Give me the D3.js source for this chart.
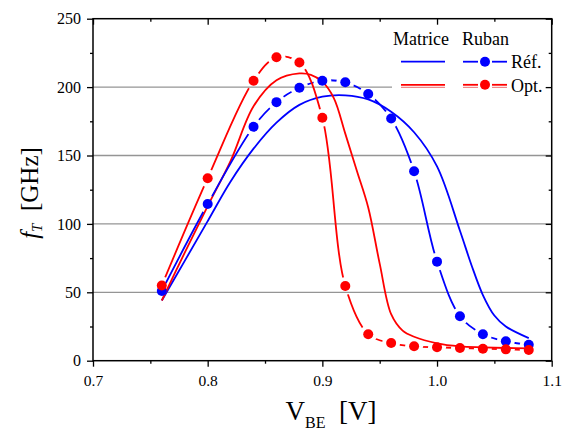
<!DOCTYPE html>
<html><head><meta charset="utf-8">
<script src="https://cdn.jsdelivr.net/npm/d3@7"></script>
<style>
html,body{margin:0;padding:0;background:#fff;}
svg text{font-family:"Liberation Serif","Times New Roman",serif !important;}
</style></head>
<body>
<script>
// ---- data ----
const vbeDots   = [0.76,0.80,0.84,0.86,0.88,0.90,0.92,0.94,0.96,0.98,1.00,1.02,1.04,1.06,1.08];
const rubanRef  = [51,114.5,171,189,199.5,204.7,203.5,195,177,138.5,72.4,32.5,19.3,14.2,11.7];
const rubanOpt  = [55,133.4,204.7,221.8,218,177.6,54.6,19.3,12.9,10.5,9.8,9.3,8.8,8.3,7.8];

const vbeMatRef = [0.76,0.78,0.80,0.82,0.84,0.86,0.88,0.90,0.92,0.94,0.96,0.98,1.00,1.02,1.03,1.04,1.05,1.06,1.08];
const matriceRef= [44,73,102,131,155,174,187,193,194,191,182,167,142,95,70,48,33,25,16.5];

const vbeMatOpt = [0.76,0.78,0.80,0.82,0.84,0.86,0.88,0.89,0.90,0.91,0.92,0.93,0.94,0.95,0.96,0.97,0.98,1.00,1.02,1.04,1.06,1.08];
const matriceOpt= [44,79,113,146,186,205,210,209,204,192,166,139,112,71,34,22,17.5,12.7,10.5,9.8,9.3,9];

const xTicks = [0.7,0.8,0.9,1.0,1.1];
const xMinor = [0.75,0.85,0.95,1.05];
const yTicks = [0,50,100,150,200,250];
const yMinor = [25,75,125,175,225];
const gridVals = [50,100,150,200];

const colRef = "#0000ff", colOpt = "#ff0000";

// ---- layout ----
const W = 564, H = 429;
const L = 93, R = 551.7, T = 18.7, B = 360.7;

const svg = d3.select("body").append("svg").attr("width",W).attr("height",H).style("display","block");
const x = d3.scaleLinear().domain([0.7,1.1]).range([L,R]);
const y = d3.scaleLinear().domain([0,250]).range([B,T]);

// gridlines
svg.append("g").selectAll("line").data(gridVals).join("line")
  .attr("x1",L).attr("x2",R).attr("y1",d=>y(d)).attr("y2",d=>y(d))
  .attr("stroke","#959595").attr("stroke-width",1.3);

// legend background
svg.append("rect").attr("x",392).attr("y",26).attr("width",R-392).attr("height",70).attr("fill","#fff");

// masks for line gaps around symbols
const defs = svg.append("defs");
function makeMask(id, xs, ys){
  const m = defs.append("mask").attr("id",id).attr("maskUnits","userSpaceOnUse")
    .attr("x",0).attr("y",0).attr("width",W).attr("height",H);
  m.append("rect").attr("x",0).attr("y",0).attr("width",W).attr("height",H).attr("fill","#fff");
  m.selectAll("circle").data(xs).join("circle")
    .attr("cx",d=>x(d)).attr("cy",(d,i)=>y(ys[i])).attr("r",9).attr("fill","#000");
}
makeMask("mRef", vbeDots, rubanRef);
makeMask("mOpt", vbeDots, rubanOpt);

const line = d3.line().x(d=>x(d[0])).y(d=>y(d[1])).curve(d3.curveCatmullRom.alpha(0.5));
const zip = (a,b)=>a.map((v,i)=>[v,b[i]]);

const plot = svg.append("g");
plot.append("path").attr("d",line(zip(vbeMatRef,matriceRef))).attr("fill","none").attr("stroke",colRef).attr("stroke-width",1.8);
plot.append("path").attr("d",line(zip(vbeMatOpt,matriceOpt))).attr("fill","none").attr("stroke",colOpt).attr("stroke-width",1.8);
plot.append("path").attr("d",line(zip(vbeDots,rubanRef))).attr("fill","none").attr("stroke",colRef).attr("stroke-width",1.8).attr("mask","url(#mRef)");
plot.append("path").attr("d",line(zip(vbeDots,rubanOpt))).attr("fill","none").attr("stroke",colOpt).attr("stroke-width",1.8).attr("mask","url(#mOpt)");

plot.append("g").selectAll("circle").data(zip(vbeDots,rubanRef)).join("circle")
  .attr("cx",d=>x(d[0])).attr("cy",d=>y(d[1])).attr("r",5).attr("fill",colRef);
plot.append("g").selectAll("circle").data(zip(vbeDots,rubanOpt)).join("circle")
  .attr("cx",d=>x(d[0])).attr("cy",d=>y(d[1])).attr("r",5).attr("fill",colOpt);

// axes
function styleAxis(fs){
  return g=>{
    g.select(".domain").remove();
    g.attr("font-family",null);
    g.selectAll("line").attr("stroke","#000").attr("stroke-width",1.3);
    g.selectAll("text").attr("font-size",fs).attr("fill","#000");
  };
}
svg.append("g").attr("transform",`translate(${L},0)`)
  .call(d3.axisLeft(y).tickValues(yTicks).tickSize(6).tickPadding(6).tickFormat(d3.format("d"))).call(styleAxis(16));
svg.append("g").attr("transform",`translate(${L},0)`)
  .call(d3.axisLeft(y).tickValues(yMinor).tickSize(3).tickFormat("")).call(styleAxis(16));
svg.append("g").attr("transform",`translate(0,${B})`)
  .call(d3.axisBottom(x).tickValues(xTicks).tickSize(6).tickPadding(8).tickFormat(d3.format(".1f"))).call(styleAxis(15.5));
svg.append("g").attr("transform",`translate(0,${B})`)
  .call(d3.axisBottom(x).tickValues(xMinor).tickSize(3).tickFormat("")).call(styleAxis(15));
// top & right inward ticks
svg.append("g").attr("transform",`translate(0,${T})`)
  .call(d3.axisBottom(x).tickValues(xTicks).tickSize(6).tickFormat("")).call(styleAxis(15));
svg.append("g").attr("transform",`translate(0,${T})`)
  .call(d3.axisBottom(x).tickValues(xMinor).tickSize(3).tickFormat("")).call(styleAxis(15));
svg.append("g").attr("transform",`translate(${R},0)`)
  .call(d3.axisLeft(y).tickValues(yTicks).tickSize(6).tickFormat("")).call(styleAxis(15));
svg.append("g").attr("transform",`translate(${R},0)`)
  .call(d3.axisLeft(y).tickValues(yMinor).tickSize(3).tickFormat("")).call(styleAxis(15));

// frame
svg.append("rect").attr("x",L).attr("y",T).attr("width",R-L).attr("height",B-T)
  .attr("fill","none").attr("stroke","#000").attr("stroke-width",1.5);

// axis titles
const yl = svg.append("text").attr("transform",`translate(38,193) rotate(-90)`)
  .attr("text-anchor","middle").attr("font-size",25).attr("fill","#000");
yl.append("tspan").attr("font-style","italic").text("f");
yl.append("tspan").attr("font-style","italic").attr("font-size",15).attr("dy",4).text("T");
yl.append("tspan").attr("dy",-4).text("\u00a0 [GHz]");

const xl = svg.append("text").attr("x",331).attr("y",420)
  .attr("text-anchor","middle").attr("font-size",27).attr("fill","#000");
xl.append("tspan").text("V");
xl.append("tspan").attr("font-size",16).attr("dy",8).text("BE");
xl.append("tspan").attr("dy",-8).text("\u00a0 [V]");

// legend
const lg = svg.append("g").attr("font-size",18).attr("fill","#000");
lg.append("text").attr("x",393).attr("y",45).text("Matrice");
lg.append("text").attr("x",462).attr("y",45).text("Ruban");
lg.append("text").attr("x",511).attr("y",68).text("Réf.");
lg.append("text").attr("x",511).attr("y",92).text("Opt.");
const legRows = [{y:61.7,c:colRef,dbl:false},{y:84.8,c:colOpt,dbl:true}];
legRows.forEach(r=>{
  const segs = [[401,445],[463,478],[492,507]];
  segs.forEach(s=>{
    lg.append("line").attr("x1",s[0]).attr("x2",s[1]).attr("y1",r.y).attr("y2",r.y).attr("stroke",r.c).attr("stroke-width",1.8);
    if(r.dbl) lg.append("line").attr("x1",s[0]).attr("x2",s[1]).attr("y1",r.y+2.6).attr("y2",r.y+2.6).attr("stroke","#e88").attr("stroke-width",1.2);
  });
  lg.append("circle").attr("cx",485).attr("cy",r.y).attr("r",5).attr("fill",r.c);
});
</script>
</body></html>
